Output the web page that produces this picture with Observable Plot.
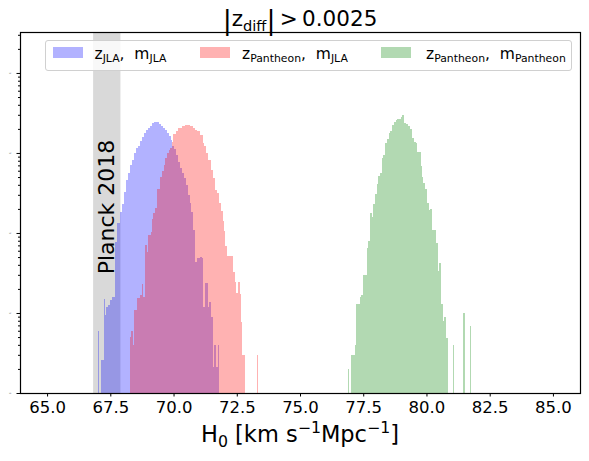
<!DOCTYPE html>
<html><head><meta charset="utf-8">
<script src="https://cdn.jsdelivr.net/npm/d3@7"></script>
<script src="https://cdn.jsdelivr.net/npm/@observablehq/plot@0.6"></script>
<style>
body{margin:0;background:#fff;}
#wrap{position:relative;width:589px;height:461px;font-family:"DejaVu Sans",sans-serif;color:#000;overflow:hidden;}
#wrap svg.plot{position:absolute;left:0;top:0;}
#title{position:absolute;left:20px;width:560px;top:4px;text-align:center;font-size:21.5px;line-height:1.2;}
#title .bar{font-size:1.25em;vertical-align:-0.1em;}
#title sub{font-size:0.68em;}
#xlabel{position:absolute;left:20px;width:560px;top:421px;text-align:center;font-size:22.5px;line-height:1.2;}
#legend{position:absolute;left:45px;top:40px;width:527px;height:31px;box-sizing:border-box;border:1px solid #d0d0d0;border-radius:3px;background:rgba(255,255,255,0.8);font-size:15.5px;}
.sw{position:absolute;top:6px;width:30px;height:10.5px;}
.lab{position:absolute;top:3px;line-height:20px;white-space:nowrap;}
sub{font-size:0.7em;vertical-align:-0.3em;line-height:0;}
sup{font-size:0.7em;vertical-align:0.55em;line-height:0;}
</style>
</head><body>
<div id="wrap">
  <div id="title"><span class="bar">|</span>z<sub>diff</sub><span class="bar">|</span>&thinsp;&gt;&thinsp;0.0025</div>
  <div id="xlabel">H<sub>0</sub> [km s<sup>−1</sup>Mpc<sup>−1</sup>]</div>
  <div id="legend"></div>
</div>
<script>
// ---- data (bin left edge, count); zero = empty bin ----
const blueBins = [[67.02,6.0],[67.06,0],[67.13,2.6],[67.25,15],[67.29,9.5],[67.33,12],[67.41,12.7],[67.49,14.7],[67.57,16],[67.69,78],[67.77,134],[67.89,185],[67.96,232],[68.04,328],[68.12,464],[68.20,567],[68.28,714],[68.36,825],[68.44,1008],[68.52,1165],[68.60,1234],[68.68,1425],[68.75,1599],[68.83,1794],[68.91,1955],[68.99,2071],[69.07,2194],[69.15,2358],[69.23,2427],[69.43,2323],[69.51,2194],[69.58,2071],[69.66,1955],[69.74,1794],[69.82,1645],[69.90,1466],[69.94,1234],[70.02,1132],[70.10,952],[70.18,778],[70.26,655],[70.34,567],[70.42,491],[70.49,401],[70.57,301],[70.65,239],[70.69,185],[70.77,110],[70.85,44],[70.93,48],[71.05,50],[71.13,49],[71.17,12],[71.25,24],[71.28,24],[71.36,12],[71.40,13.8],[71.48,9],[71.56,2.1],[71.60,4],[71.68,2.1],[71.76,4]];
const blueEnd = 71.81;

const pinkBins = [[68.28,4.95],[68.33,6.0],[68.39,4.0],[68.45,11.0],[68.55,15.5],[68.68,16.9],[68.75,23.2],[68.78,16.0],[68.87,71],[68.94,58],[68.99,95],[69.10,104],[69.15,151],[69.20,179],[69.28,207],[69.36,358],[69.47,505],[69.55,601],[69.62,714],[69.68,874],[69.73,1008],[69.81,1100],[69.86,1165],[69.93,1384],[69.99,1742],[70.10,1900],[70.19,2054],[70.32,2150],[70.45,2213],[70.65,2150],[70.76,2054],[70.85,1955],[70.94,1862],[71.05,1694],[71.15,1334],[71.21,1209],[71.28,1000],[71.38,825],[71.47,618],[71.55,487],[71.64,348],[71.71,316],[71.81,237],[71.87,186],[71.94,140],[72.00,105],[72.05,68],[72.13,51],[72.34,33],[72.43,24.6],[72.48,17.9],[72.54,24.6],[72.62,17.5],[72.67,7.8],[72.72,3.0],[72.83,0],[73.30,3.0]];
const pinkEnd = 73.33;

const greenBins = [[76.89,2.0],[76.95,0],[77.02,3.0],[77.17,4.0],[77.21,13.1],[77.37,16.0],[77.42,16.9],[77.49,30.1],[77.64,65.5],[77.69,80.1],[77.77,179],[77.85,160],[77.89,232],[77.96,310],[78.04,413],[78.09,520],[78.16,567],[78.24,874],[78.29,952],[78.36,1345],[78.44,1510],[78.52,1794],[78.57,1900],[78.64,2259],[78.72,2462],[78.78,2609],[78.85,2683],[78.98,2844],[79.04,3013],[79.12,2392],[79.19,2323],[79.26,2194],[79.35,2013],[79.43,1553],[79.51,1384],[79.57,1345],[79.64,1038],[79.77,694],[79.82,505],[79.87,425],[79.93,358],[80.01,239],[80.09,196],[80.14,201],[80.21,110],[80.36,75.6],[80.44,33.8],[80.48,42.5],[80.56,13.1],[80.64,8.0],[80.68,9.0],[80.76,4.9],[80.84,0],[81.05,4.0],[81.09,0],[81.44,10.1],[81.51,0],[81.71,6.9]];
const greenEnd = 81.76;

const seriesLabels = ["z<sub>JLA</sub>,&nbsp; m<sub>JLA</sub>", "z<sub>Pantheon</sub>,&nbsp; m<sub>JLA</sub>", "z<sub>Pantheon</sub>,&nbsp; m<sub>Pantheon</sub>"];
const seriesColors = ["blue", "red", "green"];

const planckH0 = 67.36, planckErr = 0.54;
const planckLabel = "Planck 2018";

const xTicks = [65, 67.5, 70, 72.5, 75, 77.5, 80, 82.5, 85];
const xDomain = [63.93, 86.07];
const yDomain = [1, 32500];
const yMajor = [1, 10, 100, 1000, 10000];
const yBase = 1;

// ---- build ----
function toRects(bins, end) {
  return bins.map(([x1, c], i) => ({x1, x2: i + 1 < bins.length ? bins[i + 1][0] : end, y1: yBase, y2: c}))
             .filter(d => d.y2 > 0);
}
const seriesData = [toRects(blueBins, blueEnd), toRects(pinkBins, pinkEnd), toRects(greenBins, greenEnd)];

const yMinor = [];
for (const m of yMajor) for (let k = 2; k <= 9; k++) { const v = m * k; if (v < yDomain[1]) yMinor.push(v); }
const sup = {"0":"⁰","1":"¹","2":"²","3":"³","4":"⁴"};
const fmtLog = d => "10" + String(Math.round(Math.log10(d))).split("").map(c => sup[c]).join("");

const chart = Plot.plot({
  width: 589, height: 461,
  marginTop: 32, marginBottom: 68, marginLeft: 20, marginRight: 9,
  style: {fontFamily: "DejaVu Sans", background: "transparent", color: "black", overflow: "visible"},
  x: {domain: xDomain},
  y: {type: "log", domain: yDomain},
  marks: [
    Plot.rect([{lo: planckH0 - planckErr, hi: planckH0 + planckErr}], {x1: "lo", x2: "hi", fill: "gray", fillOpacity: 0.3}),
    ...seriesData.map((data, i) => Plot.rect(data, {x1: "x1", x2: "x2", y1: "y1", y2: "y2", fill: seriesColors[i], opacity: 0.3, inset: 0, shapeRendering: "crispEdges"})),
    Plot.text([planckH0], {x: d => d, frameAnchor: "middle", dy: -6, rotate: -90, text: () => planckLabel, fontSize: 22, fill: "black", lineAnchor: "middle"}),
    Plot.frame({stroke: "black", strokeWidth: 1.2}),
    Plot.axisX({ticks: xTicks, tickFormat: d3.format(".1f"), tickSize: 3.5, tickPadding: 4, fontSize: 16.5, label: null, strokeWidth: 1}),
    Plot.axisY({ticks: yMajor, tickFormat: fmtLog, tickSize: 3.5, tickPadding: 5.5, fontSize: 1.6, label: null}),
    Plot.axisY({ticks: yMinor, tickFormat: () => "", tickSize: 2, label: null})
  ]
});
chart.classList.add("plot");
const wrap = document.getElementById("wrap");
wrap.insertBefore(chart, wrap.firstChild);

// legend
const legend = document.getElementById("legend");
const swLeft = [6.7, 153.8, 335.3], labLeft = [48.5, 196, 380];
seriesLabels.forEach((lab, i) => {
  const sw = document.createElement("div");
  sw.className = "sw"; sw.style.left = swLeft[i] + "px";
  sw.style.background = seriesColors[i]; sw.style.opacity = 0.3;
  legend.appendChild(sw);
  const t = document.createElement("div");
  t.className = "lab"; t.style.left = labLeft[i] + "px"; t.innerHTML = lab;
  legend.appendChild(t);
});
</script>
</body></html>
